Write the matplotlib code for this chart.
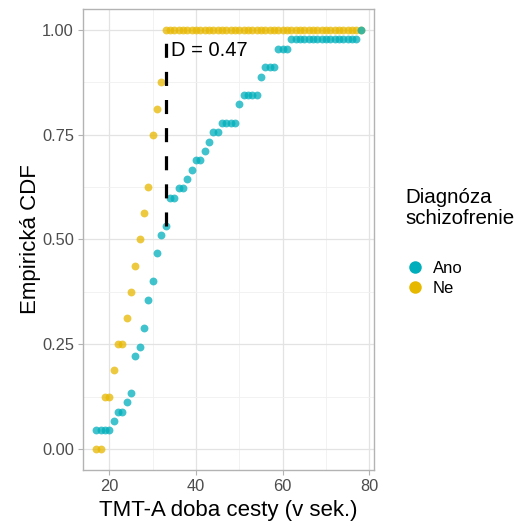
import numpy as np
import matplotlib
matplotlib.use("Agg")
import matplotlib.pyplot as plt
from matplotlib.lines import Line2D
from matplotlib.ticker import MultipleLocator

plt.rcParams['font.family'] = ['Liberation Sans', 'DejaVu Sans']

ano = [17, 17, 21, 22, 24, 25, 26, 26, 26, 26, 27, 28, 28, 29, 29, 29,
       30, 30, 31, 31, 31, 32, 32, 33, 34, 34, 34, 36, 38, 39, 40, 42,
       43, 44, 46, 50, 50, 51, 55, 55, 56, 59, 59, 62, 78]
ne = [19, 19, 21, 22, 24, 25, 26, 27, 28, 29, 30, 30, 31, 32, 33, 33]
groups = ['Ano', 'Ne']
colors = ['#00AFBB', '#E7B800']
d_label = 'D = 0.47'


def ecdf(sample, grid):
    s = np.sort(sample)
    return np.searchsorted(s, grid, side='right') / len(s)


pooled = np.concatenate([ano, ne])
grid = np.arange(pooled.min(), pooled.max() + 1)
y_ano = ecdf(ano, grid)
y_ne = ecdf(ne, grid)
diff = np.abs(y_ano - y_ne)
i_max = np.argmax(diff)
x_d = grid[i_max]

fig = plt.figure(figsize=(5.23, 5.26), dpi=100)
ax = fig.add_axes([0.1587, 0.1065, 0.7151 - 0.1587, 0.9829 - 0.1065])

ax.scatter(grid, y_ne, s=32, color=colors[1], alpha=0.75, linewidths=0, zorder=3)
ax.scatter(grid, y_ano, s=32, color=colors[0], alpha=0.75, linewidths=0, zorder=3)

ax.plot([x_d, x_d], [min(y_ano[i_max], y_ne[i_max]), max(y_ano[i_max], y_ne[i_max])],
        color='black', lw=2.3, dashes=(4.4, 4.4), solid_capstyle='butt',
        dash_capstyle='butt', zorder=4)
ax.text(x_d + 1.2, 0.95, d_label, fontsize=14.5, ha='left', va='center', zorder=5)

rng = grid.max() - grid.min()
ax.set_xlim(grid.min() - 0.05 * rng, grid.max() + 0.05 * rng)
ax.set_ylim(-0.05, 1.05)
ax.set_xticks([20, 40, 60, 80])
ax.set_yticks([0, 0.25, 0.5, 0.75, 1.0])
ax.set_yticklabels(['0.00', '0.25', '0.50', '0.75', '1.00'])
ax.xaxis.set_minor_locator(MultipleLocator(10))
ax.yaxis.set_minor_locator(MultipleLocator(0.125))
ax.grid(True, which='major', color='#E3E3E3', lw=0.9, zorder=0)
ax.grid(True, which='minor', color='#F0F0F0', lw=0.6, zorder=0)
ax.set_axisbelow(True)
for sp in ax.spines.values():
    sp.set_color('#B3B3B3')
    sp.set_linewidth(1.0)
ax.tick_params(which='major', length=3.5, width=0.8, color='#B3B3B3',
               labelcolor='#4D4D4D', labelsize=11.8, pad=3)
ax.tick_params(which='minor', length=0)

ax.set_xlabel('TMT-A doba cesty (v sek.)', fontsize=16, labelpad=4)
ax.set_ylabel('Empirická CDF', fontsize=16, labelpad=1)

fig.text(0.776, 1 - 188 / 526, 'Diagnóza\nschizofrenie', fontsize=14.8,
         ha='left', va='top', linespacing=1.15)
handles = [Line2D([], [], marker='o', linestyle='', markersize=9,
                  markerfacecolor=c, markeredgewidth=0) for c in colors]
fig.legend(handles, groups, loc='upper left',
           bbox_to_anchor=(0.776, 1 - 261 / 526), frameon=False,
           fontsize=12, handlelength=1.08, handletextpad=0.55,
           labelspacing=0.3, borderpad=0, borderaxespad=0)

fig.savefig('out.png', dpi=100)
